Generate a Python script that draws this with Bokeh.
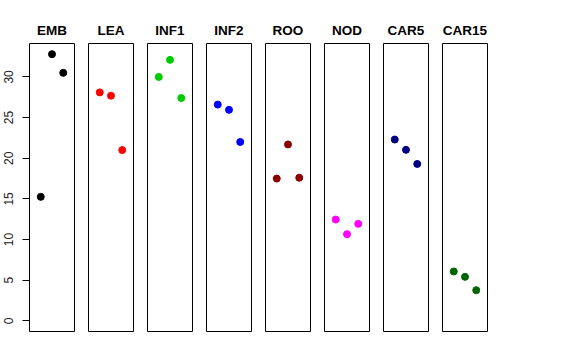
from bokeh.plotting import figure
from bokeh.layouts import row
from bokeh.models import Range1d, FixedTicker
from bokeh.embed import file_html
from bokeh.resources import INLINE

categories = ["EMB", "LEA", "INF1", "INF2", "ROO", "NOD", "CAR5", "CAR15"]
positions = [1, 2, 3]
emb = [15.25, 32.8, 30.5]
lea = [28.1, 27.7, 21.0]
inf1 = [30.0, 32.1, 27.4]
inf2 = [26.6, 25.95, 22.0]
roo = [17.5, 21.7, 17.6]
nod = [12.46, 10.66, 11.93]
car5 = [22.3, 21.03, 19.3]
car15 = [6.07, 5.41, 3.77]
series = [emb, lea, inf1, inf2, roo, nod, car5, car15]
colors = ["#000000", "#FF0000", "#00CD00", "#0000FF", "#8B0000", "#FF00FF", "#000080", "#006400"]
y_ticks = [0, 5, 10, 15, 20, 25, 30]

ymax = max(max(s) for s in series)
pad = 0.04 * ymax
FONT = "Liberation Sans"

figs = []
for i, (cat, vals, col) in enumerate(zip(categories, series, colors)):
    first = i == 0
    p = figure(
        width=81 if first else 59,
        height=348,
        x_range=Range1d(0, 4),
        y_range=Range1d(-pad, ymax + pad),
        x_axis_location=None,
        y_axis_location="left" if first else None,
        toolbar_location=None,
        output_backend="svg",
        title=cat,
        min_border_left=29 if first else 7,
        min_border_right=7,
        min_border_top=43,
        min_border_bottom=17,
    )
    p.title.align = "center"
    p.title.text_font = FONT
    p.title.text_font_size = "13.5px"
    p.title.text_font_style = "bold"
    p.title.text_color = "black"
    p.title.standoff = 11
    p.grid.visible = False
    p.outline_line_color = "black"
    p.outline_line_width = 1
    p.outline_line_alpha = 1
    p.background_fill_color = "white"
    p.border_fill_color = "white"
    if first:
        ax = p.yaxis[0]
        ax.ticker = FixedTicker(ticks=y_ticks)
        ax.bounds = (0, 30)
        ax.major_label_orientation = "vertical"
        ax.major_tick_out = 7
        ax.major_tick_in = 0
        ax.minor_tick_out = 0
        ax.minor_tick_in = 0
        ax.major_label_standoff = 9
        ax.major_label_text_font = FONT
        ax.major_label_text_font_size = "12px"
        ax.major_label_text_color = "#222222"
        ax.axis_line_color = "black"
        ax.major_tick_line_color = "black"
    p.scatter(positions, vals, size=7, color=col, line_color=col)
    figs.append(p)

layout = row(*figs, spacing=0)
open("out.html", "w").write(file_html(layout, INLINE))
